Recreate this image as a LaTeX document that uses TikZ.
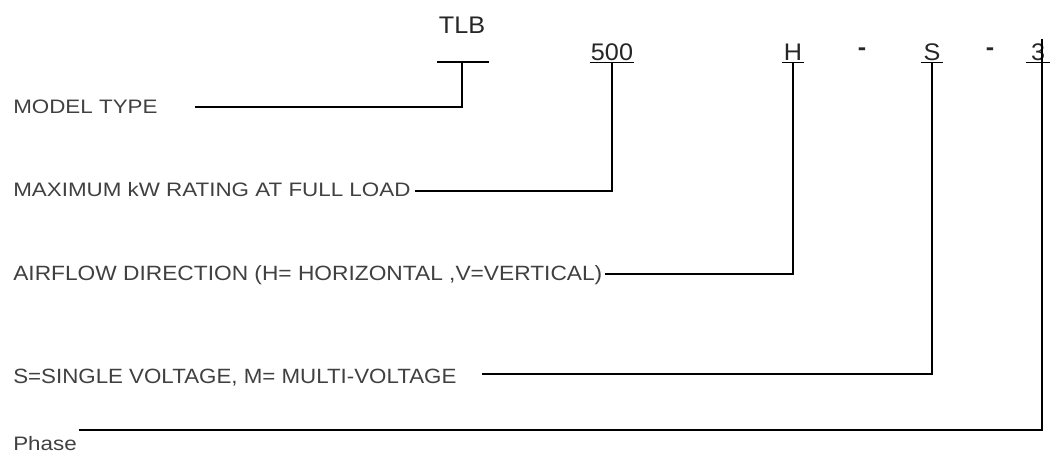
\documentclass[tikz,border=0pt]{standalone}
\usepackage{fontspec}
\setmainfont{Liberation Sans}
\newfontfamily\legendfont[FakeStretch=1.15]{Liberation Sans}
\newfontfamily\tallfont[FakeStretch=1.08]{Liberation Sans}
\newfontfamily\widetallfont[FakeStretch=1.1]{Liberation Sans}
\newfontfamily\codefont[FakeStretch=1.05]{Liberation Sans}
\usetikzlibrary{positioning}

\begin{document}
\begin{tikzpicture}[
  x=0.75pt,y=-0.75pt,
  code/.style={font=\codefont\fontsize{18}{18}\selectfont,text=black!85,
    inner sep=0pt,anchor=base},
  legend/.style={font=\legendfont\fontsize{14.6}{15}\selectfont,text=black!75,
    inner sep=0pt,anchor=base west},
  tall/.style={legend,font=\tallfont\fontsize{15.5}{16}\selectfont},
  lead/.style={draw=black,line width=1.3pt},
  uline/.style={draw=black,line width=1pt}
]
\useasboundingbox (0,0) rectangle (1050,454);

% code letters along the top
\node[code] (tlb) at (462,33) {TLB};
\node[code] (kw) at (612,60) {500};
\node[code] (dir) at (793,60) {H};
\node[code,font=\codefont\bfseries\fontsize{18}{18}\selectfont] (dash1) at (862,55) {-};
\node[code] (volt) at (932,60) {S};
\node[code,font=\codefont\bfseries\fontsize{18}{18}\selectfont] (dash2) at (990,55) {-};
\node[code] (ph) at (1038,60) {3};

% legends on the left
\node[legend] (model) at (13,113) {MODEL TYPE};
\node[legend] (rating) at (13,196) {MAXIMUM kW RATING AT FULL LOAD};
\node[tall,font=\widetallfont\fontsize{15.5}{16}\selectfont] (airflow) at (13,280)
  {AIRFLOW DIRECTION (H= HORIZONTAL ,V=VERTICAL)};
\node[tall] (voltage) at (13,383) {S=SINGLE VOLTAGE, M= MULTI-VOLTAGE};
\node[legend] (phase) at (13,450) {Phase};

% free ends of the leaders
\coordinate (tlbbar) at (462,62);
\coordinate (modelend) at (195,107);
\coordinate (ratingend) at (415,191);
\coordinate (airflowend) at (605,274);
\coordinate (voltageend) at (482,374);
\coordinate (phaseend) at (79,430);

% underlines
\draw[uline] ([shift={(-25,0)}]tlbbar) -- ([shift={(27,0)}]tlbbar);
\draw[uline] ([shift={(-1,2)}]kw.south west) -- ([shift={(1,2)}]kw.south east);
\draw[uline] ([shift={(-2,2)}]dir.south west) -- ([shift={(2,2)}]dir.south east);
\draw[uline] ([shift={(-2,2)}]volt.south west) -- ([shift={(2,2)}]volt.south east);
\draw[uline] ([shift={(-5,2)}]ph.south west) -- ([shift={(6,2)}]ph.south east);

% leaders
\draw[lead] (tlbbar) |- (modelend);
\draw[lead] ([shift={(0,2)}]kw.south) |- (ratingend);
\draw[lead] ([shift={(0,2)}]dir.south) |- (airflowend);
\draw[lead] ([shift={(0,2)}]volt.south) |- (voltageend);
\draw[lead] ([shift={(4,-4)}]ph.north) |- (phaseend);
\end{tikzpicture}
\end{document}
